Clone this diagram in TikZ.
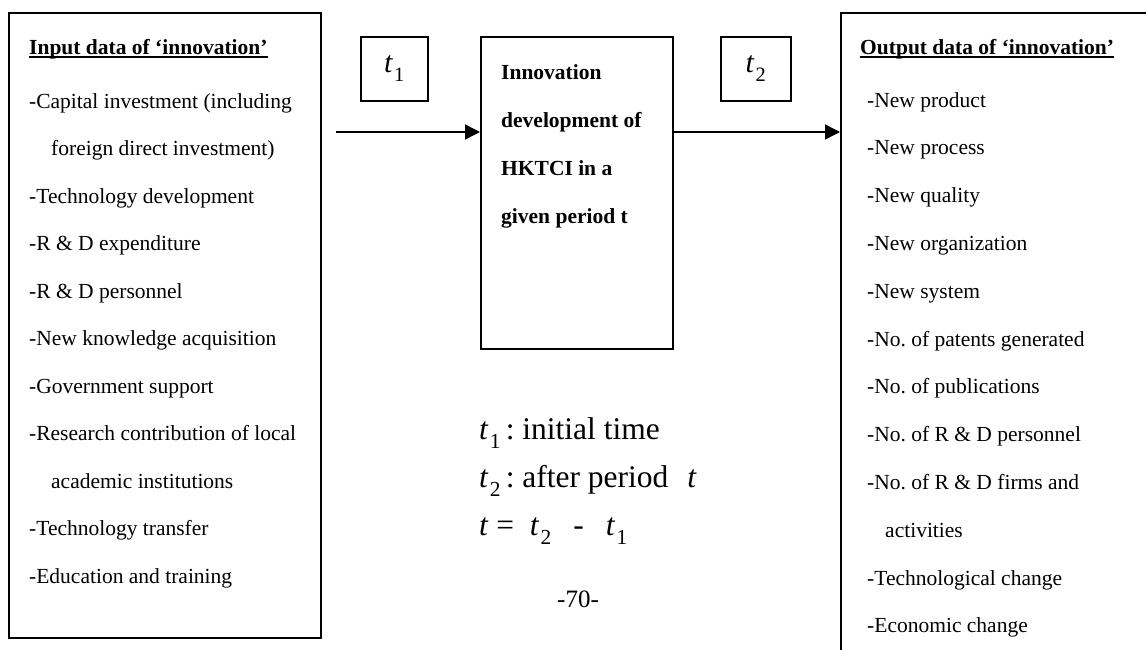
\documentclass[tikz,border=0pt]{standalone}
\usepackage{fontspec}
\setmainfont{Liberation Serif}
\usepackage{graphicx}
\usetikzlibrary{arrows.meta}
\frenchspacing
% italic t with an upright lowered index
\newcommand\tvar[1]{\textit{t}\kern0.04em\raisebox{-0.3em}{\scalebox{0.68}{#1}}}
% heading with a heavy underline
\newcommand\ulined[1]{\setbox0\hbox{#1}\rlap{\rule[-3.5pt]{\wd0}{1.7pt}}\box0}
\begin{document}
\begin{tikzpicture}[x=1pt,y=-1pt,
  frame/.style={draw, line width=1.5pt, inner sep=0pt, anchor=north west},
  item/.style={anchor=base west, inner sep=0pt, font=\fontsize{21.5}{26}\selectfont},
  head/.style={item, font=\fontsize{21.5}{26}\selectfont\bfseries},
  legend/.style={anchor=base west, inner sep=0pt, font=\fontsize{31.5}{36}\selectfont},
  tlabel/.style={inner sep=0pt, font=\fontsize{30}{34}\selectfont},
  arr/.style={line width=1.5pt, -{Triangle[length=15pt,width=15pt]}}]
\clip (0,0) rectangle (1146,649);
\fill[white] (0,0) rectangle (1146,649);

% --- input box ---
\node[frame, minimum width=312pt, minimum height=625pt] (inbox) at (8,12) {};
\node[head] (inhead) at (29,54) {\ulined{Input data of ‘innovation’}};
\foreach \k/\dx/\txt in {0/29/{-Capital investment (including},
                         1/51/{foreign direct investment)},
                         2/29/{-Technology development},
                         3/29/{-R \& D expenditure},
                         4/29/{-R \& D personnel},
                         5/29/{-New knowledge acquisition},
                         6/29/{-Government support},
                         7/29/{-Research contribution of local},
                         8/51/{academic institutions},
                         9/29/{-Technology transfer},
                         10/29/{-Education and training}}
  \node[item] (in\k) at (\dx, 108+47.5*\k) {\txt};

% --- time markers ---
\node[frame, minimum width=67pt, minimum height=64pt] (tbox1) at (360,36) {};
\node[tlabel] (tlab1) at (tbox1.center) {\tvar{1}};
\node[frame, minimum width=70pt, minimum height=64pt] (tbox2) at (720,36) {};
\node[tlabel] (tlab2) at (tbox2.center) {\tvar{2}};

% --- central process box ---
\node[frame, minimum width=192pt, minimum height=312pt] (core) at (480,36) {};
\foreach \k/\txt in {0/Innovation, 1/development of, 2/HKTCI in a, 3/given period t}
  \node[head] (core\k) at (501, 79+48*\k) {\txt};

% --- output box (runs past the page edge) ---
\node[frame, minimum width=330pt, minimum height=680pt] (outbox) at (840,12) {};
\node[head] (outhead) at (860,54) {\ulined{Output data of ‘innovation’}};
\foreach \k/\dx/\txt in {0/867/{-New product},
                         1/867/{-New process},
                         2/867/{-New quality},
                         3/867/{-New organization},
                         4/867/{-New system},
                         5/867/{-No. of patents generated},
                         6/867/{-No. of publications},
                         7/867/{-No. of R \& D personnel},
                         8/867/{-No. of R \& D firms and},
                         9/885/{activities},
                         10/867/{-Technological change},
                         11/867/{-Economic change}}
  \node[item] (out\k) at (\dx, 107+47.8*\k) {\txt};

% --- flow arrows ---
\coordinate (src) at (336,132);
\draw[arr] (src) -- (core.west |- src);
\draw[arr] (core.east |- src) -- (outbox.west |- src);

% --- legend ---
\node[legend] (leg1) at (479,439) {\tvar{1}\,: initial time};
\node[legend] (leg2) at (479,487) {\tvar{2}\,: after period\hspace{0.6em}\textit{t}};
\node[legend] (leg3) at (479,535) {\textit{t} =\hspace{0.5em}\tvar{2}\hspace{0.7em}-\hspace{0.7em}\tvar{1}};
\node[anchor=base, inner sep=0pt, font=\fontsize{25}{30}\selectfont] (page) at (578,607) {-70-};
\end{tikzpicture}
\end{document}
